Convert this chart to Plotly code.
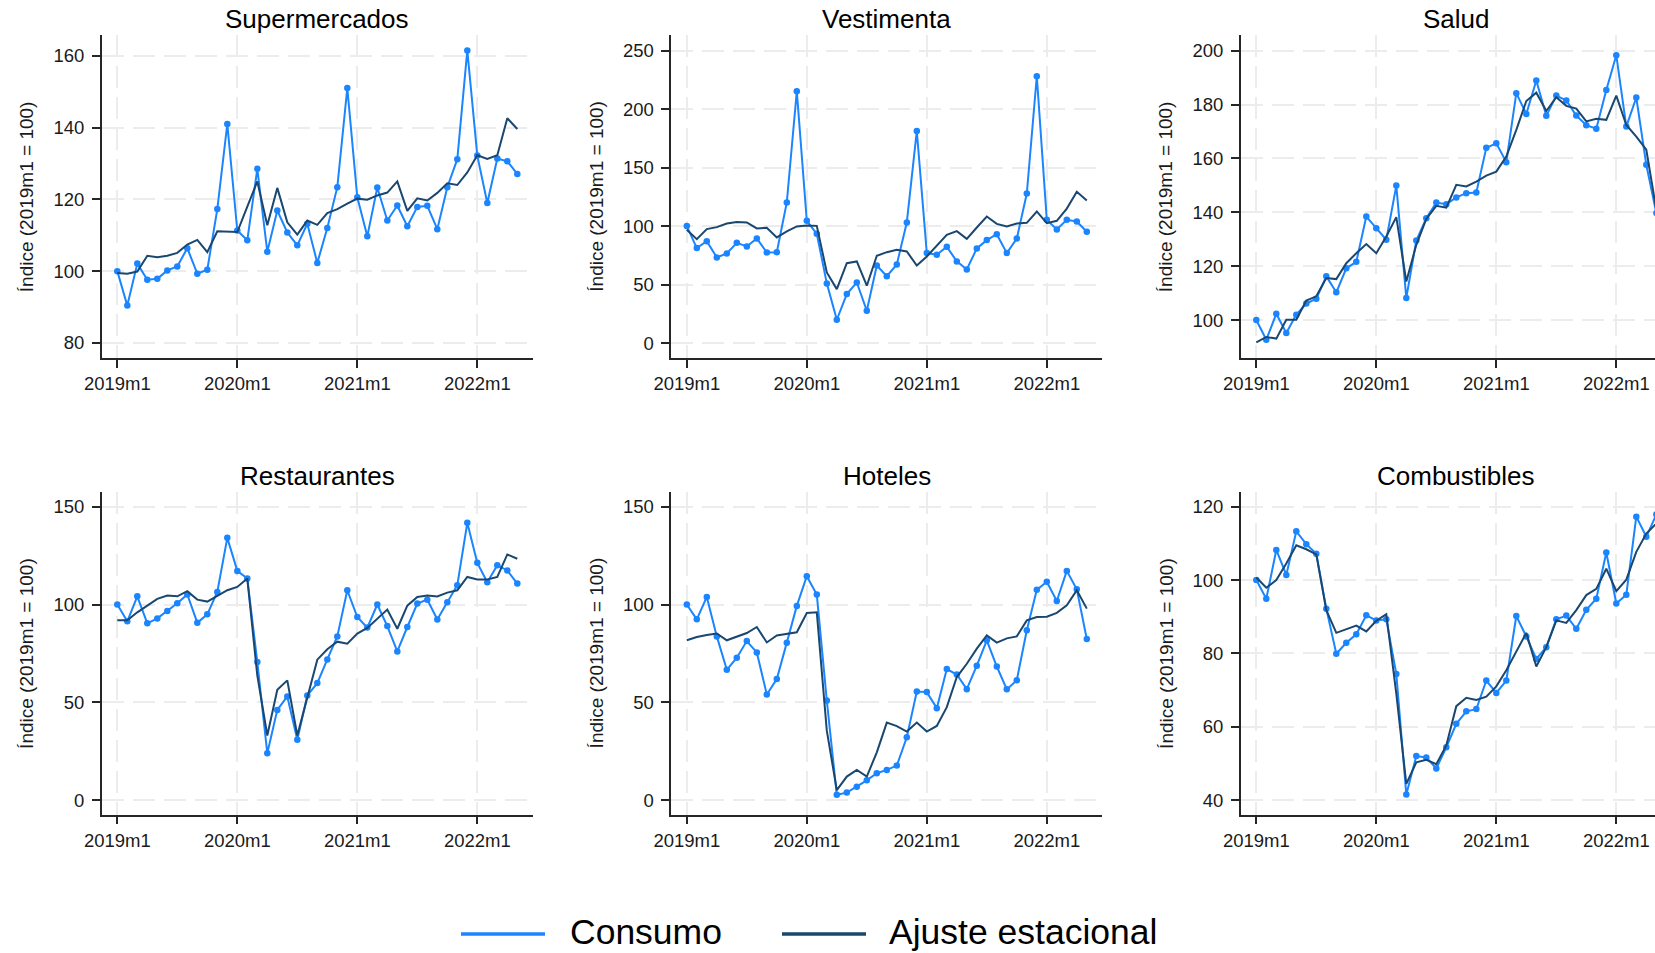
import plotly.graph_objects as go

# Monthly periods, 2019m1 .. 2022m5
periods = [f"{y}m{m}" for y in range(2019, 2023) for m in range(1, 13)][:41]
tick_labels = ["2019m1", "2020m1", "2021m1", "2022m1"]

panel_titles = ["Supermercados", "Vestimenta", "Salud",
                "Restaurantes", "Hoteles", "Combustibles"]

super_consumo = [100, 90.4, 102.1, 97.6, 97.9, 100.2, 101.3, 106.4, 99.3, 100.4, 117.3, 141.0,
                 111.3, 108.6, 128.5, 105.4, 116.9, 110.8, 107.2, 113.2, 102.3, 112.0, 123.4, 151.0,
                 120.6, 109.7, 123.3, 114.1, 118.3, 112.5, 117.9, 118.2, 111.7, 123.4, 131.2, 161.5,
                 132.2, 119.0, 131.4, 130.6, 127.1]
super_ajuste = [99.5, 99.3, 99.9, 104.3, 103.9, 104.3, 105.1, 107.4, 108.7, 105.3, 111.1, 110.9,
                110.9, 118.0, 125.0, 112.8, 123.2, 113.6, 110.2, 114.1, 112.9, 116.2, 117.3, 118.8,
                120.2, 119.9, 121.1, 121.9, 125.0, 116.8, 120.3, 119.7, 121.8, 124.5, 124.0, 127.5,
                132.3, 131.3, 132.3, 142.6, 139.6]

vest_consumo = [100, 81.2, 87.1, 73.2, 76.6, 85.7, 82.6, 89.4, 77.4, 77.7, 120.2, 215.3,
                104.5, 93.4, 51.0, 19.9, 41.9, 51.8, 27.6, 66.3, 57.2, 67.2, 103.1, 181.4,
                76.9, 75.5, 82.3, 69.8, 62.9, 80.9, 88.0, 93.1, 76.9, 89.4, 127.8, 228.1,
                105.4, 97.1, 105.4, 103.9, 95.1]
vest_ajuste = [96.8, 88.8, 97.4, 99.1, 102.2, 103.4, 103.1, 98.0, 98.5, 90.3, 95.4, 99.7,
               100.5, 100.2, 60.4, 46.1, 68.3, 69.8, 49.0, 74.6, 77.7, 79.7, 78.3, 66.3,
               74.0, 83.1, 92.5, 95.7, 89.1, 98.8, 108.2, 101.9, 99.7, 102.2, 102.8, 112.5,
               102.5, 104.5, 115.0, 129.3, 121.9]

salud_consumo = [100, 92.7, 102.3, 95.2, 102.0, 106.1, 107.9, 116.2, 110.3, 119.2, 121.6, 138.4,
                 134.1, 129.8, 149.9, 108.2, 129.5, 137.8, 143.6, 143.0, 145.5, 147.1, 147.3, 163.9,
                 165.6, 158.6, 184.2, 176.5, 188.9, 175.8, 183.3, 181.5, 175.9, 172.3, 171.0, 185.4,
                 198.3, 171.8, 182.6, 157.6, 139.7]
salud_ajuste = [91.7, 93.7, 93.1, 100.1, 100.1, 107.2, 108.8, 115.6, 115.2, 121.1, 124.8, 128.2,
                124.8, 131.0, 138.2, 114.3, 127.9, 137.5, 142.4, 141.7, 150.2, 149.6, 151.4, 153.6,
                155.1, 160.7, 170.6, 181.3, 184.4, 177.6, 182.7, 179.5, 178.5, 173.7, 174.7, 174.3,
                183.3, 172.4, 168.1, 163.2, 141.0]

rest_consumo = [100, 91.4, 104.2, 90.4, 92.9, 96.7, 100.6, 105.1, 90.7, 95.0, 106.4, 134.1,
                117.2, 113.3, 70.6, 23.9, 46.1, 53.0, 30.8, 53.5, 59.8, 71.9, 83.7, 107.3,
                93.6, 88.2, 100.0, 89.0, 76.0, 88.5, 100.5, 102.5, 92.3, 101.1, 109.9, 141.8,
                121.3, 111.4, 120.1, 117.4, 110.7]
rest_ajuste = [91.9, 91.9, 96.0, 99.6, 102.9, 104.6, 104.2, 106.8, 102.5, 101.5, 104.4, 107.3,
               109.0, 113.3, 63.7, 33.0, 56.4, 61.2, 33.0, 53.0, 71.8, 77.1, 81.0, 80.0,
               85.1, 88.0, 92.8, 97.4, 87.6, 99.4, 103.9, 104.6, 104.1, 106.1, 107.3, 114.1,
               112.8, 112.8, 114.1, 125.6, 123.4]

hotel_consumo = [100, 92.4, 103.9, 83.7, 66.6, 72.8, 81.3, 75.5, 54.0, 61.9, 80.5, 99.3,
                 114.5, 105.1, 50.9, 2.7, 3.8, 6.8, 10.1, 13.7, 15.4, 17.6, 32.1, 55.5,
                 55.2, 47.0, 67.0, 64.2, 56.7, 68.7, 81.7, 68.3, 56.6, 61.3, 86.8, 107.5,
                 111.6, 101.8, 117.2, 107.8, 82.4]
hotel_ajuste = [81.7, 83.4, 84.4, 85.2, 81.7, 83.7, 85.4, 88.5, 80.6, 84.2, 85.1, 85.8,
                95.7, 96.0, 35.5, 5.1, 12.0, 15.4, 12.0, 24.4, 39.6, 37.8, 35.0, 39.6,
                35.0, 37.9, 47.5, 62.9, 69.7, 77.4, 84.2, 80.5, 82.7, 83.7, 91.9, 93.6,
                93.8, 95.7, 99.6, 107.3, 97.9]

comb_consumo = [100, 94.9, 108.2, 101.4, 113.3, 109.8, 107.2, 92.2, 79.9, 82.9, 85.2, 90.4,
                89.0, 89.3, 74.4, 41.5, 52.0, 51.6, 48.6, 54.4, 60.8, 64.2, 64.8, 72.6,
                69.2, 72.6, 90.2, 84.6, 78.5, 81.7, 89.3, 90.3, 86.7, 91.9, 94.9, 107.5,
                93.6, 96.0, 117.3, 111.8, 117.9]
comb_ajuste = [100.7, 97.9, 100.0, 104.5, 109.5, 108.4, 107.0, 91.8, 85.6, 86.7, 87.6, 86.0,
               88.9, 90.7, 69.0, 44.4, 50.3, 51.0, 49.8, 54.9, 65.6, 67.9, 67.3, 68.2,
               71.0, 75.4, 80.5, 85.6, 76.4, 81.7, 89.0, 88.3, 91.8, 95.9, 97.6, 103.1,
               97.0, 100.1, 107.7, 112.7, 115.4]

consumo = [super_consumo, vest_consumo, salud_consumo, rest_consumo, hotel_consumo, comb_consumo]
ajuste = [super_ajuste, vest_ajuste, salud_ajuste, rest_ajuste, hotel_ajuste, comb_ajuste]

y_ticks = [[80, 100, 120, 140, 160], [0, 50, 100, 150, 200, 250], [100, 120, 140, 160, 180, 200],
           [0, 50, 100, 150], [0, 50, 100, 150], [40, 60, 80, 100, 120]]
y_ranges = [[75.8, 165.8], [-12.8, 263.4], [85.9, 205.8],
            [-7.5, 157.7], [-7.5, 157.7], [36.0, 124.1]]

C_CONSUMO = "#1a85ff"
C_AJUSTE = "#1a476f"
AXIS_C = "#262626"
GRID_C = "#ececec"
FONT = "Liberation Sans, Arial, sans-serif"

W, H = 1655, 953
col_left = [101.7, 671.2, 1240.7]   # px
panel_w = 431.2
row_top = [35.0, 491.7]
panel_h = 323.0
px_per_month = 10.0
x_start = -1.56

fig = go.Figure()
annotations = []

for i in range(6):
    r, c = divmod(i, 3)
    ax = "" if i == 0 else str(i + 1)
    left = col_left[c]
    right = min(left + panel_w, W)
    top = row_top[r]
    bottom = top + panel_h
    x_end = x_start + (right - left) / px_per_month

    fig.add_trace(go.Scatter(
        x=periods, y=consumo[i], mode="lines+markers", name="Consumo",
        line=dict(color=C_CONSUMO, width=2), marker=dict(color=C_CONSUMO, size=6.5),
        xaxis="x" + ax, yaxis="y" + ax, showlegend=False))
    fig.add_trace(go.Scatter(
        x=periods, y=ajuste[i], mode="lines", name="Ajuste estacional",
        line=dict(color=C_AJUSTE, width=2),
        xaxis="x" + ax, yaxis="y" + ax, showlegend=False))

    common = dict(showline=True, linecolor=AXIS_C, linewidth=1.5,
                  ticks="outside", ticklen=8, tickwidth=1.5, tickcolor=AXIS_C,
                  showgrid=True, gridcolor=GRID_C, gridwidth=2, griddash="22px,9px",
                  zeroline=False, automargin=False,
                  tickfont=dict(family=FONT, size=18.5, color="#1a1a1a"),
                  fixedrange=True)
    fig.update_layout({
        "xaxis" + ax: dict(common, type="category", domain=[left / W, right / W],
                           range=[x_start, x_end], tickmode="array",
                           tickvals=tick_labels, ticktext=tick_labels,
                           anchor="y" + ax, ticklabelstandoff=0),
        "yaxis" + ax: dict(common, domain=[1 - bottom / H, 1 - top / H],
                           range=y_ranges[i], tickmode="array", tickvals=y_ticks[i],
                           anchor="x" + ax, ticklabelstandoff=4),
    })

    # panel title
    annotations.append(dict(
        text=panel_titles[i], xref="paper", yref="paper",
        x=(left + panel_w / 2) / W, y=1 - (top - 16.0) / H,
        xanchor="center", yanchor="middle", showarrow=False,
        font=dict(family=FONT, size=26, color="#000000")))
    # y-axis title
    annotations.append(dict(
        text="Índice (2019m1 = 100)", xref="paper", yref="paper",
        x=(left - 75) / W, y=1 - (top + panel_h / 2) / H, textangle=-90,
        xanchor="center", yanchor="middle", showarrow=False,
        font=dict(family=FONT, size=19, color="#1a1a1a")))

# legend drawn below the panels
leg_y = 1 - 934.0 / H
legend_items = [("Consumo", C_CONSUMO, 461, 545, 568), ("Ajuste estacional", C_AJUSTE, 782, 866, 887)]
shapes = []
for label, color, x0, x1, xt in legend_items:
    shapes.append(dict(type="line", xref="paper", yref="paper",
                       x0=x0 / W, x1=x1 / W, y0=leg_y, y1=leg_y,
                       line=dict(color=color, width=3.3)))
    annotations.append(dict(
        text=label, xref="paper", yref="paper", x=xt / W, y=1 - 931.5 / H,
        xanchor="left", yanchor="middle", showarrow=False,
        font=dict(family=FONT, size=35.5, color="#000000")))

fig.update_layout(
    width=W, height=H, autosize=False,
    margin=dict(l=0, r=0, t=0, b=0, autoexpand=False),
    paper_bgcolor="white", plot_bgcolor="white",
    showlegend=False, annotations=annotations, shapes=shapes,
    font=dict(family=FONT),
)

fig.write_html("out.html")
